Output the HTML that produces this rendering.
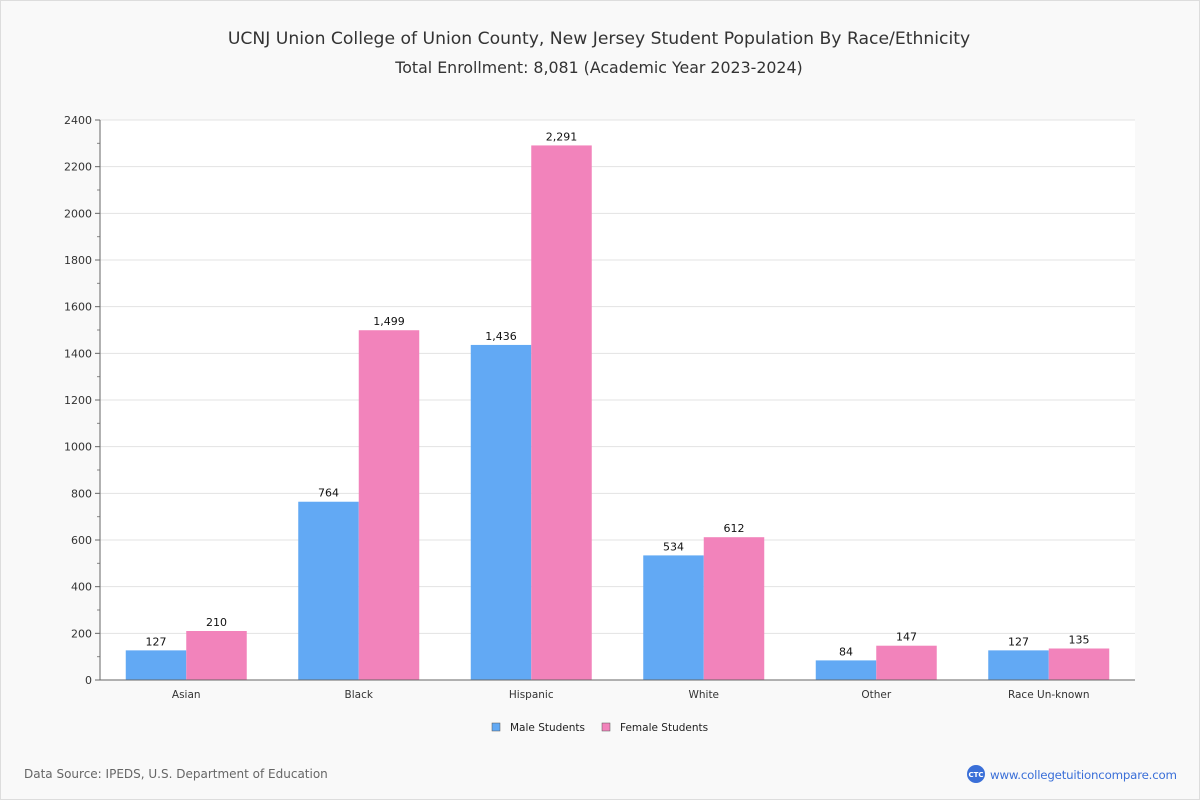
<!DOCTYPE html>
<html><head><meta charset="utf-8"><style>
body{margin:0;background:#fff;font-family:"DejaVu Sans","Liberation Sans",sans-serif}
#wrap{position:relative;width:1198px;height:798px;border:1px solid #ddd;background:#f9f9f9}
</style></head><body>
<div id="wrap">
<svg id="chart" width="1198" height="798" xmlns="http://www.w3.org/2000/svg" font-family="DejaVu Sans, Liberation Sans, sans-serif">
<text x="598" y="43" text-anchor="middle" font-size="17.2" fill="#333">UCNJ Union College of Union County, New Jersey Student Population By Race/Ethnicity</text>
<text x="598" y="72" text-anchor="middle" font-size="15.8" fill="#333">Total Enrollment: 8,081 (Academic Year 2023-2024)</text>
<rect x="99" y="119" width="1035" height="560" fill="#fff"/>
<g id="grid"></g><g id="bars"></g><g id="axes"></g>
<g>
<rect x="491" y="722" width="8" height="8" fill="#62a9f4" stroke="#555" stroke-width="0.5"/>
<text x="509" y="730" font-size="10.5" fill="#222">Male Students</text>
<rect x="601" y="722" width="8" height="8" fill="#f283bb" stroke="#555" stroke-width="0.5"/>
<text x="619" y="730" font-size="10.5" fill="#222">Female Students</text>
</g>
<text x="23" y="777" font-size="12" fill="#666">Data Source: IPEDS, U.S. Department of Education</text>
<circle cx="975" cy="773" r="9" fill="#3a6fd8"/>
<text x="975" y="776" text-anchor="middle" font-size="7" fill="#fff" font-weight="bold">CTC</text>
<text x="989" y="778" font-size="11.8" fill="#3a6fd8" textLength="187">www.collegetuitioncompare.com</text>
</svg></div>
<script>
const categories=["Asian","Black","Hispanic","White","Other","Race Un-known"];
const maleValues=[127,764,1436,534,84,127];
const femaleValues=[210,1499,2291,612,147,135];
const yTicks=[0,200,400,600,800,1000,1200,1400,1600,1800,2000,2200,2400];
const NS="http://www.w3.org/2000/svg";
const X0=99,X1=1134,Y0=679,Y1=119,YMAX=2400;
const y=v=>Y0-(v/YMAX)*(Y0-Y1);
const band=(X1-X0)/categories.length;
const xc=i=>X0+band*(i+0.5);
function mk(t,a,p){const e=document.createElementNS(NS,t);for(const k in a)e.setAttribute(k,a[k]);p.appendChild(e);return e;}
const grid=document.getElementById('grid'),bars=document.getElementById('bars'),axes=document.getElementById('axes');
yTicks.forEach(v=>{
 const g=mk('line',{x1:X0,x2:X1,y1:y(v),y2:y(v),stroke:'#e3e3e3'},grid);
 
 
 mk('line',{x1:X0-5,x2:X0,y1:y(v),y2:y(v),stroke:'#666'},axes);
 const t=mk('text',{x:X0-8,y:y(v)+4,'text-anchor':'end','font-size':'11',fill:'#333'},axes);
 t.textContent=v;
 
 
});
for(let v=100;v<YMAX;v+=200)mk('line',{x1:X0-3,x2:X0,y1:y(v),y2:y(v),stroke:'#888'},axes);
mk('line',{x1:X0,x2:X0,y1:Y1,y2:Y0,stroke:'#666'},axes);
mk('line',{x1:X0,x2:X1,y1:Y0,y2:Y0,stroke:'#666'},axes);
const bw=60.5;
const fmt=v=>v.toLocaleString('en-US');
categories.forEach((c,i)=>{
 [[maleValues[i],'#62a9f4',-bw,'male'],[femaleValues[i],'#f283bb',0,'female']].forEach(([v,col,off,s])=>{
  const r=mk('rect',{x:xc(i)+off,y:y(v),width:bw,height:Y0-y(v),fill:col},bars);
  
  
  const t=mk('text',{x:xc(i)+off+bw/2,y:y(v)-5,'text-anchor':'middle','font-size':'11',fill:'#111'},bars);
  t.textContent=fmt(v);
  
  
 });
 const t=mk('text',{x:xc(i),y:Y0+18,'text-anchor':'middle','font-size':'10.5',fill:'#333'},axes);
 t.textContent=c;
 
 
});
</script>
</body></html>
